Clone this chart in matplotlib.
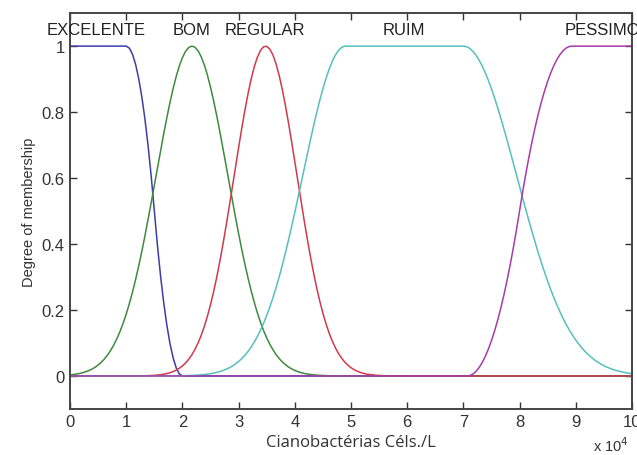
import matplotlib
matplotlib.use('Agg')
import matplotlib.pyplot as plt
import numpy as np

# membership functions (x in units of 10^4 cells/L)
mf_names = ['EXCELENTE', 'BOM', 'REGULAR', 'RUIM', 'PESSIMO']
mf_types = ['zmf', 'gaussmf', 'gaussmf', 'gauss2mf', 'smf']
mf_params = [
    [1.0, 2.0],                 # zmf: a, b
    [0.64, 2.17],               # gaussmf: sigma, c
    [0.56, 3.48],               # gaussmf: sigma, c
    [0.76, 4.9, 0.95, 7.0],     # gauss2mf: sig1, c1, sig2, c2
    [7.07, 8.93],               # smf: a, b
]
label_x = [0.47, 2.17, 3.46, 5.95, 9.47]
mf_colors = ['#3c3caa', '#3f8a3f', '#cf3a4c', '#55bfbf', '#a53ca8']

x_ticks = list(range(0, 11))
y_ticks = [0, 0.2, 0.4, 0.6, 0.8, 1]
y_ticklabels = ['0', '0.2', '0.4', '0.6', '0.8', '1']


def smf(x, a, b):
    y = np.zeros_like(x)
    m = (a + b) / 2
    i1 = (x > a) & (x <= m)
    i2 = (x > m) & (x < b)
    y[i1] = 2 * ((x[i1] - a) / (b - a)) ** 2
    y[i2] = 1 - 2 * ((x[i2] - b) / (b - a)) ** 2
    y[x >= b] = 1
    return y


def zmf(x, a, b):
    return 1 - smf(x, a, b)


def gaussmf(x, s, c):
    return np.exp(-(x - c) ** 2 / (2 * s ** 2))


def gauss2mf(x, s1, c1, s2, c2):
    y = np.ones_like(x)
    y[x < c1] = gaussmf(x[x < c1], s1, c1)
    y[x > c2] = gaussmf(x[x > c2], s2, c2)
    return y


funcs = {'zmf': zmf, 'smf': smf, 'gaussmf': gaussmf, 'gauss2mf': gauss2mf}

xs = np.linspace(0, 10, 181)

fig = plt.figure(figsize=(6.37, 4.56), dpi=100)
ax = fig.add_axes([0.110, 0.101, 0.882, 0.868])

for name, t, p, lx, col in zip(mf_names, mf_types, mf_params, label_x, mf_colors):
    ax.plot(xs, funcs[t](xs, *p), color=col, lw=1.1)
    ax.text(lx, 1.05, name, ha='center', va='center', fontsize=12,
            family='Liberation Sans', color='#222222', clip_on=False)

ax.set_xlim(0, 10)
ax.set_ylim(-0.1, 1.1)
ax.set_xticks(x_ticks)
ax.set_yticks(y_ticks)
ax.set_yticklabels(y_ticklabels)
ax.tick_params(direction='in', length=5, width=1, top=True, right=True,
               labelsize=12, colors='#333333', pad=4)
for lab in ax.get_xticklabels() + ax.get_yticklabels():
    lab.set_family('Liberation Sans')
for s in ax.spines.values():
    s.set_color('#444444')
    s.set_linewidth(1.4)

ax.set_xlabel('Cianobactérias Céls./L', fontsize=12, family='Open Sans',
              color='#333333', labelpad=3)
ax.set_ylabel('Degree of membership', fontsize=10.5, family='Liberation Sans',
              color='#333333', labelpad=4)
fig.text(0.931, 0.003, r'x 10$^4$', fontsize=10.5, family='Liberation Sans',
         color='#333333', ha='left', va='bottom')

fig.savefig('out.png', dpi=100)
